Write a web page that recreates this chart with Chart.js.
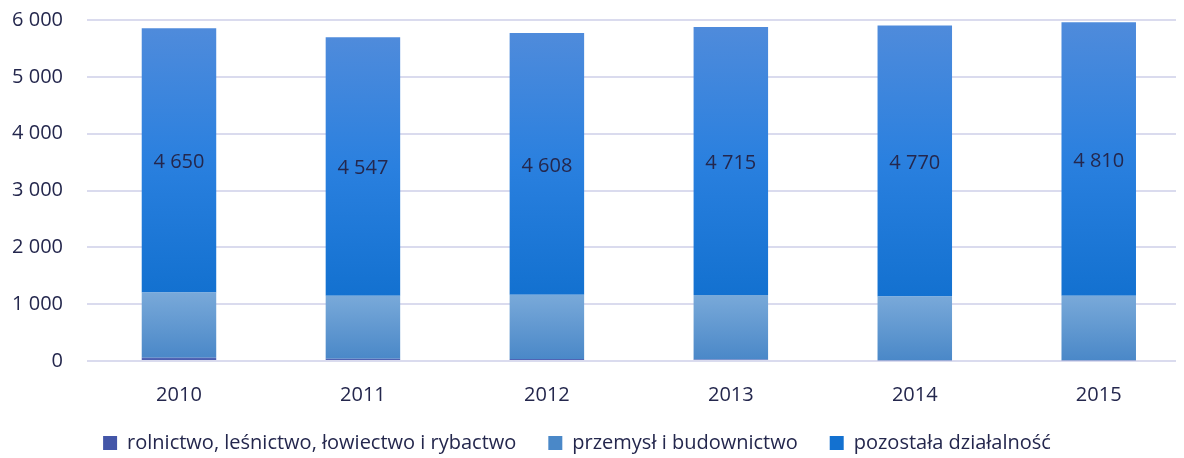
<!DOCTYPE html>
<html><head><meta charset="utf-8">
<script src="https://cdn.jsdelivr.net/npm/chart.js@4/dist/chart.umd.min.js"></script>
<style>html,body{margin:0;padding:0;background:#fff;overflow:hidden}#wrap{width:1184px;height:458px;position:relative}</style>
</head><body><div id="wrap"><canvas id="c" width="1184" height="458"></canvas></div>
<script>
const years = [2010, 2011, 2012, 2013, 2014, 2015];
const rolnictwo = [55, 40, 35, 25, 15, 15];
const przemysl = [1150, 1110, 1129, 1138, 1120, 1135];
const pozostala = [4650, 4547, 4608, 4715, 4770, 4810];
const seriesNames = ['rolnictwo, leśnictwo, łowiectwo i rybactwo', 'przemysł i budownictwo', 'pozostała działalność'];
const yTicks = [0, 1000, 2000, 3000, 4000, 5000, 6000];

const TEXT = '#24274d';
const FONT = {family: '"Open Sans", "DejaVu Sans", sans-serif', size: 20};
const fmt = v => String(v).replace(/\B(?=(\d{3})+(?!\d))/g, '\u00a0');

function segGrad(ctx, dsIndex, stops, solid) {
  const chart = ctx.chart; const y = chart.scales && chart.scales.y;
  if (!y || ctx.type !== 'data' || !chart.chartArea) return solid;
  const i = ctx.dataIndex;
  let base = 0;
  for (let d = 0; d < dsIndex; d++) base += chart.data.datasets[d].data[i];
  const top = base + chart.data.datasets[dsIndex].data[i];
  const y0 = y.getPixelForValue(top), y1 = y.getPixelForValue(base);
  if (!(y1 > y0)) return solid;
  const g = chart.ctx.createLinearGradient(0, y0, 0, y1);
  stops.forEach(s => g.addColorStop(s[0], s[1]));
  return g;
}

const valueLabels = {
  id: 'valueLabels',
  afterDatasetsDraw(chart) {
    const meta = chart.getDatasetMeta(2);
    const c = chart.ctx;
    c.save();
    c.font = FONT.size + 'px ' + FONT.family;
    c.fillStyle = TEXT;
    c.textAlign = 'center';
    c.textBaseline = 'middle';
    meta.data.forEach((bar, i) => {
      const p = bar.getProps(['x', 'y', 'base'], true);
      c.fillText(fmt(pozostala[i]), p.x, (p.y + p.base) / 2 + 2);
    });
    c.restore();
  }
};

// let x-axis labels extend below the (short) axis box, and nudge the legend left
const layoutTweak = {
  id: 'layoutTweak',
  afterLayout(chart) {
    chart.scales.x.bottom = chart.height;
    if (chart.legend) { chart.legend.left -= 32; }
  }
};

const common = {categoryPercentage: 0.81, barPercentage: 0.5, borderWidth: 0};

new Chart(document.getElementById('c'), {
  type: 'bar',
  data: {
    labels: years,
    datasets: [
      Object.assign({label: seriesNames[0], data: rolnictwo,
        backgroundColor: ctx => segGrad(ctx, 0, [[0, '#5568b8'], [1, '#4356a8']], '#4a5cab')}, common),
      Object.assign({label: seriesNames[1], data: przemysl,
        backgroundColor: ctx => segGrad(ctx, 1, [[0, '#79a9d9'], [1, '#4a88c8']], '#6a9fd5')}, common),
      Object.assign({label: seriesNames[2], data: pozostala,
        backgroundColor: ctx => segGrad(ctx, 2, [[0, '#4f8bdb'], [0.5, '#2a80df'], [1, '#1371d0']], '#1f74d4')}, common)
    ]
  },
  options: {
    responsive: false,
    animation: false,
    layout: {padding: {left: 10, right: 8, top: 20, bottom: -5}},
    plugins: {
      legend: {
        position: 'bottom',
        labels: {boxWidth: 14, boxHeight: 14, padding: 32, color: TEXT, font: FONT}
      },
      tooltip: {enabled: false}
    },
    scales: {
      x: {
        type: 'linear', stacked: true, min: 2009.5, max: 2015.42, offset: false,
        grid: {display: false, drawTicks: false}, border: {display: false},
        afterBuildTicks: s => { s.ticks = years.map(v => ({value: v})); },
        afterFit: s => { s.height = 40; s.paddingLeft = 0; s.paddingRight = 0; },
        ticks: {callback: v => String(v), padding: 22, color: TEXT, font: FONT, maxRotation: 0}
      },
      y: {
        stacked: true, min: 0, max: 6000,
        afterBuildTicks: s => { s.ticks = yTicks.map(v => ({value: v})); },
        afterFit: s => { s.width = 77; s.paddingTop = 0; s.paddingBottom = 0; },
        grid: {color: '#dadbee', lineWidth: 2, drawTicks: false},
        border: {display: false},
        ticks: {padding: 24, color: TEXT, font: FONT, callback: v => fmt(v)}
      }
    }
  },
  plugins: [valueLabels, layoutTweak]
});
</script></body></html>
